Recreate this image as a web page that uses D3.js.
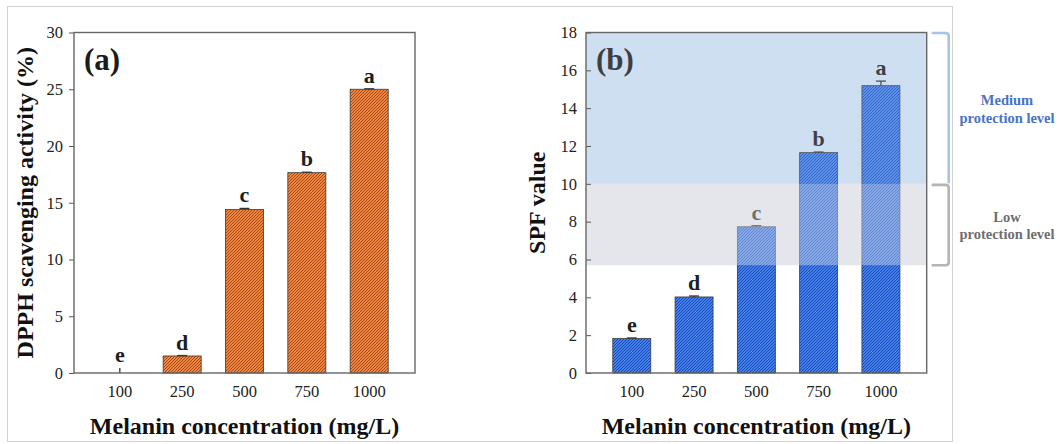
<!DOCTYPE html>
<html>
<head>
<meta charset="utf-8">
<script src="https://cdn.jsdelivr.net/npm/d3@7"></script>
<style>
  html, body { margin: 0; padding: 0; background: #fff; }
  svg { display: block; }
  text { font-family: "Liberation Serif", "Times New Roman", "DejaVu Serif", serif; }
</style>
</head>
<body>
<svg id="chart" width="1061" height="444"></svg>
<script>
// ---------------- data ----------------
const categories = ["100", "250", "500", "750", "1000"];
const dpphValues = [0, 1.5, 14.4, 17.65, 25.0];
const dpphErrors = [0.45, 0.04, 0.1, 0.04, 0.04];
const dpphLetters = ["e", "d", "c", "b", "a"];
const spfValues = [1.82, 4.02, 7.73, 11.65, 15.19];
const spfErrors = [0.03, 0.05, 0.06, 0.03, 0.24];
const spfLetters = ["e", "d", "c", "b", "a"];
const dpphTicks = [0, 5, 10, 15, 20, 25, 30];
const spfTicks = [0, 2, 4, 6, 8, 10, 12, 14, 16, 18];
const zoneNames = ["Medium", "Low"];
const zoneFrom = [10, 5.7];
const zoneTo = [18, 10];
const zoneLabels = [["Medium", "protection level"], ["Low", "protection level"]];
const xTitle = "Melanin concentration (mg/L)";
const yTitleA = "DPPH scavenging activity (%)";
const yTitleB = "SPF value";

// ---------------- setup ----------------
const FONT = "'Liberation Serif','Times New Roman','DejaVu Serif',serif";
const svg = d3.select("#chart");
svg.append("rect").attr("width", 1061).attr("height", 444).attr("fill", "#fff");
// outer border
svg.append("rect").attr("x", 7.5).attr("y", 6.5).attr("width", 945).attr("height", 435)
  .attr("fill", "none").attr("stroke", "#d2d2d2").attr("stroke-width", 1);

const defs = svg.append("defs");
function hatch(id, base, line) {
  const p = defs.append("pattern").attr("id", id).attr("patternUnits", "userSpaceOnUse")
    .attr("width", 3).attr("height", 3);
  p.append("rect").attr("width", 3).attr("height", 3).attr("fill", base);
  p.append("path").attr("d", "M-0.75,0.75 L0.75,-0.75 M0,3 L3,0 M2.25,3.75 L3.75,2.25")
    .attr("stroke", line).attr("stroke-width", 0.8);
}
hatch("hatchOrange", "#f3863f", "#8a3a12");
hatch("hatchBlue", "#3f80f4", "#1b3a8c");

const TOP = 32.5, BOTTOM = 373;

function panel(opts) {
  const g = svg.append("g");
  const x = d3.scaleBand().domain(categories).range([opts.left, opts.right])
    .paddingInner(0.39).paddingOuter(0.43);
  const y = d3.scaleLinear().domain([0, opts.max]).range([BOTTOM, TOP]);
  const bw = x.bandwidth();

  if (opts.zones) {
    const zc = ["#cfe0f2", "#e4e7ec"];
    g.selectAll("rect.zonebg").data(zoneNames).join("rect").attr("class", "zonebg")
      .attr("x", opts.left).attr("width", opts.right - opts.left)
      .attr("y", (d, i) => y(zoneTo[i])).attr("height", (d, i) => y(zoneFrom[i]) - y(zoneTo[i]))
      .attr("fill", (d, i) => zc[i]);
  }

  g.selectAll("rect.bar").data(opts.values).join("rect").attr("class", "bar")
    .attr("x", (d, i) => x(categories[i])).attr("width", bw)
    .attr("y", d => y(d)).attr("height", d => y(0) - y(d))
    .attr("fill", `url(#${opts.pattern})`)
    .attr("stroke", "#3a3a3a").attr("stroke-width", d => d > 0 ? 0.8 : 0);

  // error bars
  const eg = g.append("g").attr("stroke", "#333").attr("stroke-width", 1.3);
  opts.values.forEach((v, i) => {
    const cx = x(categories[i]) + bw / 2;
    const e = opts.errors[i];
    eg.append("line").attr("x1", cx).attr("x2", cx).attr("y1", y(v)).attr("y2", y(v + e));
    const cw = v > 0 ? 5 : 0;
    eg.append("line").attr("x1", cx - cw).attr("x2", cx + cw).attr("y1", y(v + e)).attr("y2", y(v + e));
  });

  // significance letters
  g.selectAll("text.letter").data(opts.letters).join("text").attr("class", "letter")
    .attr("x", (d, i) => x(categories[i]) + bw / 2)
    .attr("y", (d, i) => y(opts.values[i] + opts.errors[i]) - 6)
    .attr("text-anchor", "middle").attr("font-size", 22).attr("font-weight", "bold")
    .attr("fill", "#1e1e1e").text(d => d);

  // panel label
  g.append("text").attr("x", opts.left + 10).attr("y", 70).attr("font-size", 31)
    .attr("font-weight", "bold").attr("fill", "#1b1b1b").text(opts.label);

  if (opts.zones) {
    const oc = ["#cfe0f2", "#e4e7ec"];
    const oa = [0.18, 0.4];
    g.selectAll("rect.zoneov").data(zoneNames).join("rect").attr("class", "zoneov")
      .attr("x", opts.left).attr("width", opts.right - opts.left)
      .attr("y", (d, i) => y(zoneTo[i])).attr("height", (d, i) => y(zoneFrom[i]) - y(zoneTo[i]))
      .attr("fill", (d, i) => oc[i]).attr("opacity", (d, i) => oa[i]);

    // brackets
    const bx0 = opts.right + 5, bx1 = opts.right + 22;
    const yt0 = y(zoneTo[0]) + 0.5, yb0 = y(zoneFrom[0]) - 0.5;
    g.append("path").attr("fill", "none").attr("stroke", "#a8c2ea").attr("stroke-width", 2.6)
      .attr("d", `M${bx0},${yt0} H${bx1 - 3} Q${bx1},${yt0} ${bx1},${yt0 + 3} V${yb0}`);
    const yt1 = y(zoneTo[1]) + 1, yb1 = y(zoneFrom[1]);
    g.append("path").attr("fill", "none").attr("stroke", "#b4b4b4").attr("stroke-width", 2.6)
      .attr("d", `M${bx0},${yt1} H${bx1 - 3} Q${bx1},${yt1} ${bx1},${yt1 + 3} V${yb1 - 3} Q${bx1},${yb1} ${bx1 - 3},${yb1} H${bx0}`);

    const tc = ["#4a72c2", "#6e6e6e"];
    zoneLabels.forEach((lines, i) => {
      const ym = y((zoneFrom[i] + zoneTo[i]) / 2);
      lines.forEach((t, j) => {
        g.append("text").attr("x", 1007).attr("y", ym - 3 + j * 17.5)
          .attr("text-anchor", "middle").attr("font-size", 14.5).attr("font-weight", "bold")
          .attr("fill", tc[i]).text(t);
      });
    });
  }

  // axes
  const ya = d3.axisLeft(y).tickValues(opts.ticks).tickFormat(d3.format("d"))
    .tickSize(opts.tickIn ? -5 : 5).tickPadding(opts.tickIn ? 9 : 6);
  const yg = g.append("g").attr("transform", `translate(${opts.left},0)`).call(ya);
  yg.attr("font-family", FONT);
  yg.select(".domain").remove();
  yg.selectAll("line").attr("stroke", "#555").attr("stroke-width", 1);
  yg.selectAll("text").attr("font-size", 16.5).attr("fill", "#222");

  const xa = d3.axisBottom(x).tickSize(0).tickPadding(12.5);
  const xg = g.append("g").attr("transform", `translate(0,${BOTTOM})`).call(xa);
  xg.attr("font-family", FONT);
  xg.select(".domain").remove();
  xg.selectAll("text").attr("font-size", 16.5).attr("fill", "#222");

  // frame
  g.append("rect").attr("x", opts.left).attr("y", TOP)
    .attr("width", opts.right - opts.left).attr("height", BOTTOM - TOP)
    .attr("fill", "none").attr("stroke", "#666").attr("stroke-width", 1.4);

  // titles
  g.append("text").attr("x", (opts.left + opts.right) / 2).attr("y", 434)
    .attr("text-anchor", "middle").attr("font-size", 24).attr("font-weight", "bold")
    .attr("fill", "#111").text(xTitle);
  g.append("text").attr("transform", `translate(${opts.yTitleX},${(TOP + BOTTOM) / 2}) rotate(-90)`)
    .attr("text-anchor", "middle").attr("font-size", 24).attr("font-weight", "bold")
    .attr("fill", "#111").text(opts.yTitle);
}

panel({ left: 74, right: 415, max: 30, values: dpphValues, errors: dpphErrors, letters: dpphLetters,
  ticks: dpphTicks, pattern: "hatchOrange", label: "(a)", yTitle: yTitleA, yTitleX: 33, tickIn: false, zones: false });
panel({ left: 586, right: 926.7, max: 18, values: spfValues, errors: spfErrors, letters: spfLetters,
  ticks: spfTicks, pattern: "hatchBlue", label: "(b)", yTitle: yTitleB, yTitleX: 545, tickIn: true, zones: true });
</script>
</body>
</html>
